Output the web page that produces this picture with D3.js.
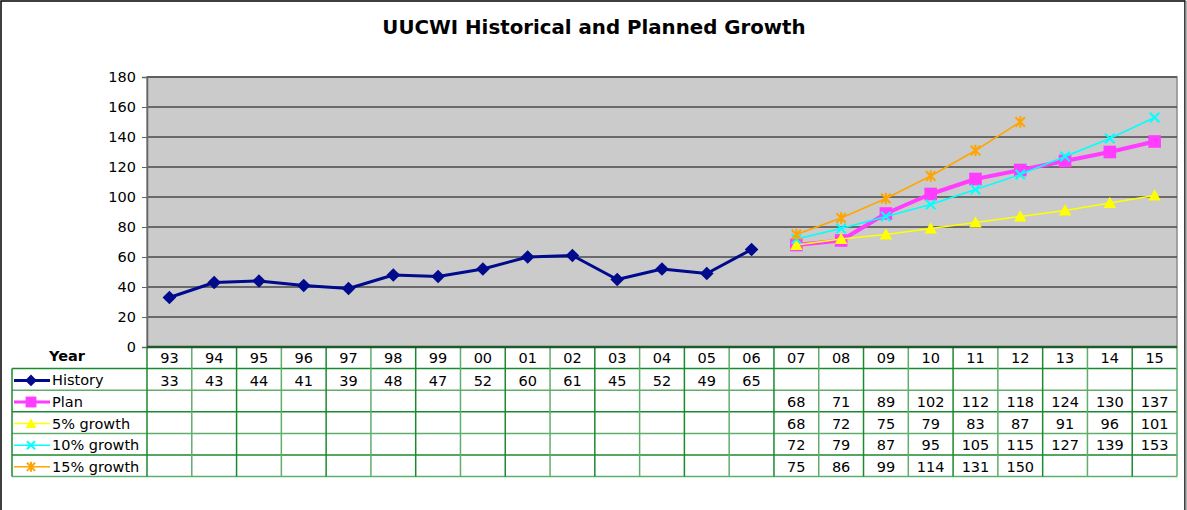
<!DOCTYPE html>
<html lang="en">
<head>
<meta charset="UTF-8">
<title>UUCWI Historical and Planned Growth</title>
<style>
  body { margin: 0; background: #fff; }
  svg text { font-family: "DejaVu Sans", Verdana, sans-serif; }
</style>
</head>
<body>
<svg id="chart" width="1187" height="510"></svg>
<script src="https://d3js.org/d3.v7.min.js"></script>
<script>
// data
var years = ["93","94","95","96","97","98","99","00","01","02","03","04","05","06","07","08","09","10","11","12","13","14","15"];
var historyVals = [33,43,44,41,39,48,47,52,60,61,45,52,49,65];
var planVals    = [68,71,89,102,112,118,124,130,137];
var growth5  = [68,72,75,79,83,87,91,96,101];
var growth10 = [72,79,87,95,105,115,127,139,153];
var growth15 = [75,86,99,114,131,150];
var yTicks = [0,20,40,60,80,100,120,140,160,180];

// series start index in years
var series = [
  { name: "History",    values: historyVals, start: 0,  color: "#000a8c", width: 3,   marker: "diamond" },
  { name: "Plan",       values: planVals,    start: 14, color: "#ff3cff", width: 4,   marker: "square" },
  { name: "5% growth",  values: growth5,     start: 14, color: "#ffff00", width: 1.5, marker: "triangle" },
  { name: "10% growth", values: growth10,    start: 14, color: "#00ffff", width: 1.5, marker: "x" },
  { name: "15% growth", values: growth15,    start: 14, color: "#ffa500", width: 1.5, marker: "star" }
];

var svg = d3.select("#chart");
var pLeft = 147, pRight = 1177, pTop = 77, pBottom = 347;
var rowH = 21.6;
var fs = 14.5;

var x = d3.scaleBand().domain(years).range([pLeft, pRight]);
var y = d3.scaleLinear().domain([0, 180]).range([pBottom, pTop]);
var rows = d3.scaleBand().domain(d3.range(6)).range([pBottom, pBottom + rowH * 6]);

// outer frame
svg.append("rect").attr("x", 1).attr("y", 1).attr("width", 1184).attr("height", 520)
  .attr("fill", "none").attr("stroke", "#000").attr("stroke-width", 1.5);
svg.append("line").attr("x1", 1186).attr("x2", 1186).attr("y1", 1).attr("y2", 510)
  .attr("stroke", "#999").attr("stroke-width", 1.5);

// title
svg.append("text").attr("x", 594).attr("y", 34).attr("text-anchor", "middle")
  .attr("font-size", 19.8).attr("font-weight", "bold").text("UUCWI Historical and Planned Growth");

// plot area
svg.append("rect").attr("x", pLeft).attr("y", pTop).attr("width", pRight - pLeft).attr("height", pBottom - pTop)
  .attr("fill", "#cbcbcb").attr("stroke", "#8c8c8c").attr("stroke-width", 1.5);

// gridlines
svg.append("g").selectAll("line").data(yTicks.filter(function(d) { return d > 0; }))
  .enter().append("line")
  .attr("x1", pLeft).attr("x2", pRight)
  .attr("y1", function(d) { return y(d); }).attr("y2", function(d) { return y(d); })
  .attr("stroke", "#4a4a4a").attr("stroke-width", 1.5);

// y axis
var yAxis = svg.append("g").attr("transform", "translate(" + pLeft + ",0)")
  .call(d3.axisLeft(y).tickValues(yTicks).tickSize(5).tickPadding(6));
yAxis.select(".domain").attr("stroke", "#666").attr("stroke-width", 1.5);
yAxis.selectAll(".tick line").attr("stroke", "#666");
yAxis.selectAll("text").attr("font-size", fs).attr("fill", "#000")
  .style("font-family", "DejaVu Sans, Verdana, sans-serif");

// data table
var tableG = svg.append("g");
var green = "#1a8a2e", lightGreen = "#5fae6c";
// horizontal lines
d3.range(1, 7).forEach(function(i) {
  var yy = pBottom + rowH * i;
  tableG.append("line").attr("x1", 12).attr("x2", pRight).attr("y1", yy).attr("y2", yy)
    .attr("stroke", i % 2 ? green : lightGreen).attr("stroke-width", 1.5);
});
// vertical lines
years.forEach(function(d, i) {
  var xx = x(d);
  tableG.append("line").attr("x1", xx).attr("x2", xx).attr("y1", pBottom).attr("y2", pBottom + rowH * 6)
    .attr("stroke", i % 2 ? lightGreen : green).attr("stroke-width", 1.5);
});
tableG.append("line").attr("x1", pRight).attr("x2", pRight).attr("y1", pBottom).attr("y2", pBottom + rowH * 6)
  .attr("stroke", lightGreen).attr("stroke-width", 1.5);
tableG.append("line").attr("x1", 12).attr("x2", 12).attr("y1", pBottom + rowH).attr("y2", pBottom + rowH * 6)
  .attr("stroke", green).attr("stroke-width", 1.5);
// axis line on top of the table
svg.append("line").attr("x1", pLeft).attr("x2", pRight).attr("y1", pBottom).attr("y2", pBottom)
  .attr("stroke", "#1f5a2a").attr("stroke-width", 2.5);

// header row
tableG.append("text").attr("x", 67).attr("y", rows(0) + 14).attr("text-anchor", "middle")
  .attr("font-size", 14.5).attr("font-weight", "bold").text("Year");
tableG.selectAll(".yr").data(years).enter().append("text")
  .attr("x", function(d) { return x(d) + x.bandwidth() / 2; })
  .attr("y", rows(0) + 16).attr("text-anchor", "middle").attr("font-size", fs)
  .text(function(d) { return d; });

// marker shapes
function drawMarker(g, s, cx, cy, big) {
  var k = big ? 1.05 : 0.9;
  if (s.marker === "diamond") {
    var r = 6.5 * k;
    g.append("path").attr("d", "M" + cx + "," + (cy - r) + "L" + (cx + r) + "," + cy + "L" + cx + "," + (cy + r) + "L" + (cx - r) + "," + cy + "Z")
      .attr("fill", s.color);
  } else if (s.marker === "square") {
    var h = 6 * k;
    g.append("rect").attr("x", cx - h).attr("y", cy - h).attr("width", h * 2).attr("height", h * 2)
      .attr("fill", s.color);
  } else if (s.marker === "triangle") {
    var t = 6 * k;
    g.append("path").attr("d", "M" + cx + "," + (cy - t) + "L" + (cx + t) + "," + (cy + t * 0.8) + "L" + (cx - t) + "," + (cy + t * 0.8) + "Z")
      .attr("fill", s.color);
  } else if (s.marker === "x" || s.marker === "star") {
    var a = 4.5 * k;
    var p = "M" + (cx - a) + "," + (cy - a) + "L" + (cx + a) + "," + (cy + a) + "M" + (cx - a) + "," + (cy + a) + "L" + (cx + a) + "," + (cy - a);
    if (s.marker === "star") p += "M" + cx + "," + (cy - a - 1) + "L" + cx + "," + (cy + a + 1);
    g.append("path").attr("d", p).attr("stroke", s.color).attr("stroke-width", 2).attr("fill", "none");
  }
}

// series lines, markers, legend keys and table values
var line = d3.line()
  .x(function(d) { return x(d.year) + x.bandwidth() / 2; })
  .y(function(d) { return y(d.value); });

series.forEach(function(s, si) {
  var pts = s.values.map(function(v, i) { return { year: years[s.start + i], value: v }; });
  var g = svg.append("g");
  g.append("path").datum(pts).attr("d", line)
    .attr("fill", "none").attr("stroke", s.color).attr("stroke-width", s.width)
    .attr("stroke-linejoin", "round");
  pts.forEach(function(p) {
    drawMarker(g, s, x(p.year) + x.bandwidth() / 2, y(p.value), true);
  });

  // legend key in the table
  var ry = rows(si + 1) + rowH / 2;
  var lg = svg.append("g");
  lg.append("line").attr("x1", 14).attr("x2", 50).attr("y1", ry + 1).attr("y2", ry + 1)
    .attr("stroke", s.color).attr("stroke-width", s.width > 2 ? 3 : 1.5);
  drawMarker(lg, s, 31, ry + 1, false);
  lg.append("text").attr("x", 52).attr("y", ry + 6).attr("font-size", fs).text(s.name);

  // values
  lg.selectAll(".v").data(pts).enter().append("text")
    .attr("x", function(d) { return x(d.year) + x.bandwidth() / 2; })
    .attr("y", rows(si + 1) + 17).attr("text-anchor", "middle").attr("font-size", fs)
    .text(function(d) { return d.value; });
});
</script>
</body>
</html>
